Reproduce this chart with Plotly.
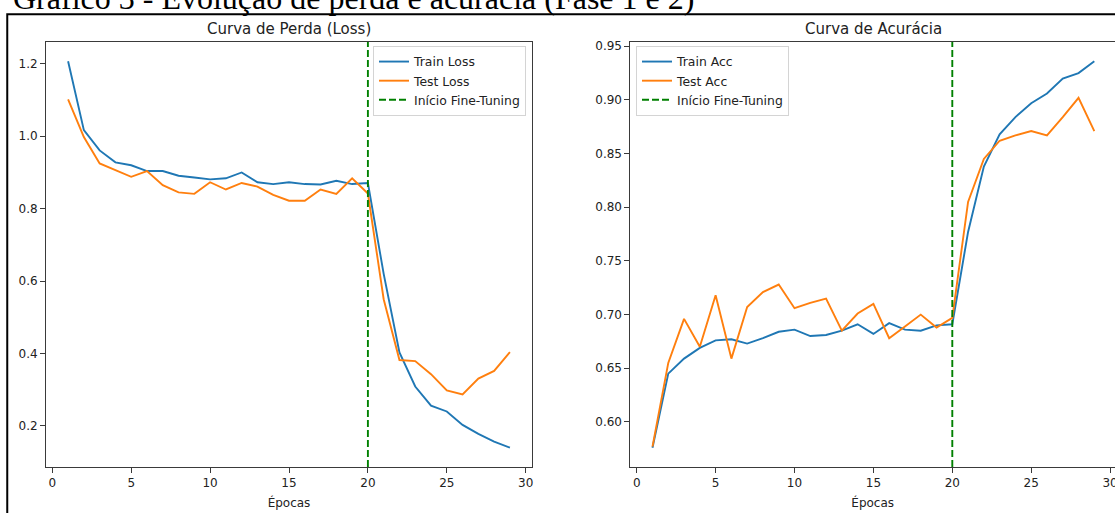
import plotly.graph_objects as go

# ---------------- data ----------------
epochs = list(range(1, 30))
train_loss = [1.207, 1.017, 0.961, 0.928, 0.920, 0.904, 0.904, 0.891, 0.886, 0.881,
              0.884, 0.900, 0.873, 0.868, 0.873, 0.868, 0.867, 0.877, 0.868, 0.871,
              0.620, 0.403, 0.309, 0.256, 0.240, 0.203, 0.178, 0.157, 0.140]
test_loss = [1.102, 0.998, 0.925, 0.906, 0.888, 0.904, 0.865, 0.845, 0.841, 0.873,
             0.853, 0.871, 0.861, 0.838, 0.822, 0.822, 0.853, 0.841, 0.884, 0.842,
             0.550, 0.382, 0.379, 0.343, 0.298, 0.287, 0.331, 0.352, 0.404]
train_acc = [0.576, 0.645, 0.659, 0.669, 0.676, 0.677, 0.673, 0.678, 0.684, 0.686,
             0.680, 0.681, 0.685, 0.691, 0.682, 0.692, 0.686, 0.685, 0.690, 0.691,
             0.777, 0.838, 0.868, 0.884, 0.897, 0.906, 0.920, 0.925, 0.936]
test_acc = [0.577, 0.655, 0.696, 0.670, 0.718, 0.659, 0.707, 0.721, 0.728, 0.706,
            0.711, 0.715, 0.685, 0.701, 0.710, 0.678, 0.689, 0.700, 0.688, 0.697,
            0.805, 0.845, 0.862, 0.867, 0.871, 0.867, 0.884, 0.902, 0.871]
fine_tune_epoch = 20

x_ticks = [0, 5, 10, 15, 20, 25, 30]
loss_ticks = [0.2, 0.4, 0.6, 0.8, 1.0, 1.2]
acc_ticks = [0.60, 0.65, 0.70, 0.75, 0.80, 0.85, 0.90, 0.95]

doc_title = "Gráfico 3 - Evolução de perda e acurácia (Fase 1 e 2)"
title_loss = "Curva de Perda (Loss)"
title_acc = "Curva de Acurácia"
x_label = "Épocas"

# ---------------- layout helpers ----------------
W, H = 1115, 513
BLUE, ORANGE, GREEN = "#1f77b4", "#ff7f0e", "#008000"
FONT = "DejaVu Sans"


def mpl_range(*series):
    vals = [v for s in series for v in s]
    lo, hi = min(vals), max(vals)
    m = 0.05 * (hi - lo)
    return [lo - m, hi + m]


xr = mpl_range(epochs)
loss_r = mpl_range(train_loss, test_loss)
acc_r = mpl_range(train_acc, test_acc)

L0, L1 = 46.0, 532.0
R0 = 630.4
ppu = (L1 - L0) / (xr[1] - xr[0])
xr2 = [xr[0], xr[0] + (W - R0) / ppu]
TOP, BOT = 42.0, 467.0
ydom = [1 - BOT / H, 1 - TOP / H]

fig = go.Figure()

fig.add_trace(go.Scatter(x=epochs, y=train_loss, mode="lines", name="Train Loss",
                         line=dict(color=BLUE, width=1.9), xaxis="x", yaxis="y", legend="legend"))
fig.add_trace(go.Scatter(x=epochs, y=test_loss, mode="lines", name="Test Loss",
                         line=dict(color=ORANGE, width=1.9), xaxis="x", yaxis="y", legend="legend"))
fig.add_trace(go.Scatter(x=[fine_tune_epoch, fine_tune_epoch], y=loss_r, mode="lines",
                         name="Início Fine-Tuning",
                         line=dict(color=GREEN, width=1.9, dash="7px,3px"),
                         xaxis="x", yaxis="y", legend="legend"))

fig.add_trace(go.Scatter(x=epochs, y=train_acc, mode="lines", name="Train Acc",
                         line=dict(color=BLUE, width=1.9), xaxis="x2", yaxis="y2", legend="legend2"))
fig.add_trace(go.Scatter(x=epochs, y=test_acc, mode="lines", name="Test Acc",
                         line=dict(color=ORANGE, width=1.9), xaxis="x2", yaxis="y2", legend="legend2"))
fig.add_trace(go.Scatter(x=[fine_tune_epoch, fine_tune_epoch], y=acc_r, mode="lines",
                         name="Início Fine-Tuning",
                         line=dict(color=GREEN, width=1.9, dash="7px,3px"),
                         xaxis="x2", yaxis="y2", legend="legend2"))

axis_common = dict(showgrid=False, zeroline=False, showline=True, linecolor="#3a3a3a",
                   linewidth=1, ticks="outside", ticklen=5, tickwidth=1, tickcolor="#3a3a3a",
                   tickfont=dict(family=FONT, size=12, color="#222"), automargin=False,
                   ticklabeloverflow="allow")

legend_common = dict(bgcolor="rgba(255,255,255,0.85)", bordercolor="#d4d4d4", borderwidth=1,
                     font=dict(family=FONT, size=12.4, color="#222"), tracegroupgap=0,
                     yanchor="top")

fig.update_layout(
    width=W, height=H,
    margin=dict(l=0, r=0, t=0, b=0),
    paper_bgcolor="white", plot_bgcolor="white",
    font=dict(family=FONT, color="#222"),
    showlegend=True,
    xaxis=dict(domain=[L0 / W, L1 / W], range=xr, tickvals=x_ticks, mirror=True,
               title=dict(text=x_label, font=dict(family=FONT, size=12, color="#222"), standoff=9),
               anchor="y", **axis_common),
    yaxis=dict(domain=ydom, range=loss_r, tickvals=loss_ticks, tickformat=".1f",
               mirror=True, anchor="x", **axis_common),
    xaxis2=dict(domain=[R0 / W, 1.0], range=xr2, tickvals=x_ticks, mirror=True,
                title=dict(text=x_label, font=dict(family=FONT, size=12, color="#222"), standoff=9),
                anchor="y2", **axis_common),
    yaxis2=dict(domain=ydom, range=acc_r, tickvals=acc_ticks, tickformat=".2f",
                mirror=False, anchor="x2", **axis_common),
    legend=dict(x=526 / W, y=1 - 46 / H, xanchor="right", **legend_common),
    legend2=dict(x=636 / W, y=1 - 46 / H, xanchor="left", **legend_common),
    annotations=[
        dict(text=title_loss, x=(L0 + L1) / 2 / W, y=1 - 29 / H, xref="paper", yref="paper",
             showarrow=False, xanchor="center", yanchor="middle",
             font=dict(family=FONT, size=15, color="#222")),
        dict(text=title_acc, x=(R0 + R0 + (L1 - L0)) / 2 / W, y=1 - 29 / H, xref="paper", yref="paper",
             showarrow=False, xanchor="center", yanchor="middle",
             font=dict(family=FONT, size=15, color="#222")),
        dict(text=doc_title, x=11 / W, y=1 + 1.5 / H, xref="paper", yref="paper",
             showarrow=False, xanchor="left", yanchor="middle",
             font=dict(family="Liberation Serif", size=32, color="black")),
    ],
    shapes=[
        dict(type="path", xref="paper", yref="paper",
             path=f"M {7.25 / W},{-10 / H} L {7.25 / W},{1 - 14.25 / H} L {1 + 10 / W},{1 - 14.25 / H}",
             line=dict(color="black", width=2)),
    ],
)

fig.write_html(
    "out.html",
    config={"displayModeBar": False},
    post_script="document.body.style.margin='0';document.body.style.overflow='hidden';",
)
